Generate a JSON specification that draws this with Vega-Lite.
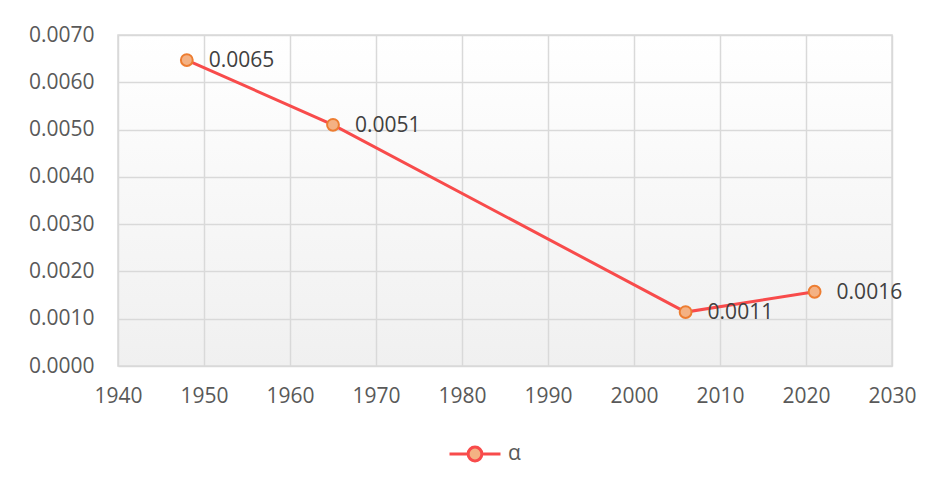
{
  "$schema": "https://vega.github.io/schema/vega-lite/v6.json",
  "width": 774,
  "height": 331,
  "autosize": {"type": "none"},
  "padding": {"left": 118, "top": 35, "right": 41, "bottom": 119},
  "background": "#ffffff",
  "config": {
    "font": "Open Sans",
    "view": {
      "stroke": "#d9d9d9",
      "strokeWidth": 1.5,
      "fill": {"gradient": "linear", "x1": 0, "y1": 0, "x2": 0, "y2": 1,
        "stops": [{"offset": 0, "color": "#ffffff"}, {"offset": 1, "color": "#f0f0f0"}]}
    },
    "axis": {
      "domain": false,
      "ticks": false,
      "gridColor": "#d9d9d9",
      "gridWidth": 1.5,
      "labelFont": "Open Sans",
      "labelFontSize": 21,
      "labelColor": "#595959",
      "title": null
    }
  },
  "data": {
    "values": [
      {"year": 1948, "alpha": 0.00647, "series": "α"},
      {"year": 1965, "alpha": 0.0051, "series": "α"},
      {"year": 2006, "alpha": 0.00114, "series": "α"},
      {"year": 2021, "alpha": 0.00157, "series": "α"}
    ]
  },
  "encoding": {
    "x": {
      "field": "year", "type": "quantitative",
      "scale": {"domain": [1940, 2030], "nice": false, "zero": false},
      "axis": {"values": [1940, 1950, 1960, 1970, 1980, 1990, 2000, 2010, 2020, 2030], "format": "d", "labelPadding": 19, "labelFlush": false}
    },
    "y": {
      "field": "alpha", "type": "quantitative",
      "scale": {"domain": [0, 0.007], "nice": false},
      "axis": {"values": [0, 0.001, 0.002, 0.003, 0.004, 0.005, 0.006, 0.007], "format": ".4f", "labelPadding": 24}
    }
  },
  "layer": [
    {
      "mark": {"type": "line", "strokeWidth": 3},
      "encoding": {
        "color": {
          "field": "series", "type": "nominal",
          "scale": {"range": ["#f84b4b"]},
          "legend": {
            "title": null,
            "orient": "none",
            "legendX": 330,
            "legendY": 392,
            "symbolType": "M-1,0L-0.27,0M0.27,0L1,0M-0.27,0A0.27,0.27 0 1 1 0.27,0A0.27,0.27 0 1 1 -0.27,0Z",
            "symbolSize": 2600,
            "labelFontSize": 21,
            "labelColor": "#595959",
            "labelFont": "Open Sans",
            "labelOffset": 6,
            "encode": {
              "symbols": {"update": {"fill": {"value": "#f4b183"}, "stroke": {"value": "#f06040"}, "strokeWidth": {"value": 3}}}
            }
          }
        }
      }
    },
    {
      "mark": {"type": "point", "filled": true, "fill": "#f4b183", "stroke": "#ed7d31", "strokeWidth": 2, "size": 140, "opacity": 1}
    },
    {
      "mark": {"type": "text", "align": "left", "baseline": "middle", "dx": 22, "dy": 1, "fontSize": 21, "font": "Open Sans", "color": "#404040"},
      "encoding": {
        "text": {"field": "alpha", "type": "quantitative", "format": ".4f"}
      }
    }
  ]
}
